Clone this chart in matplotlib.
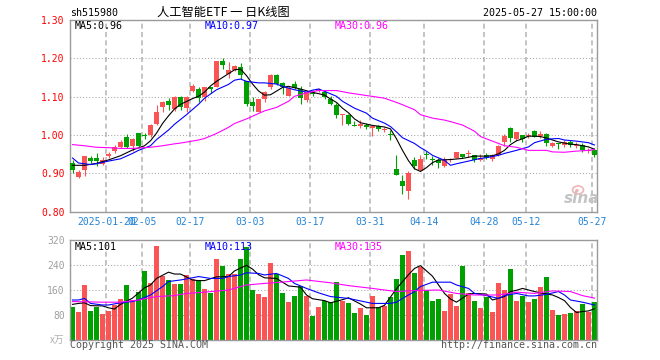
import matplotlib
matplotlib.use("Agg")
import matplotlib.pyplot as plt
from matplotlib.patches import Ellipse

plt.rcParams['lines.scale_dashes'] = False

# daily candles, 2025-01-10 .. 2025-05-27 (88 trading days)
opens = [.927, .891, .908, .939, .939, .925, .944, .958, .968, .994,
         .972, 1.004, 1.000, 1.000, 1.028, 1.073, 1.088, 1.067, 1.100, 1.070,
         1.116, 1.121, 1.098, 1.126, 1.125, 1.192, 1.160, 1.169, 1.178, 1.140,
         1.085, 1.060, 1.095, 1.125, 1.156, 1.135, 1.103, 1.133, 1.121, 1.092,
         1.112, 1.114, 1.111, 1.094, 1.077, 1.052, 1.053, 1.026, 1.024, 1.026,
         1.019, 1.024, 1.012, 1.003, .912, .879, .853, .934, .908, .950,
         .937, .934, .919, .934, .940, .950, .950, .949, .934, .949,
         .937, .947, .981, 1.019, .989, 1.000, .997, 1.010, .997, 1.002,
         .972, .980, .974, .981, .972, .975, .959, .960]
highs = [.934, .908, .945, .945, .954, .943, .956, .974, .987, 1.003,
         .993, 1.006, 1.006, 1.029, 1.079, 1.090, 1.096, 1.102, 1.101, 1.101,
         1.134, 1.126, 1.126, 1.126, 1.193, 1.202, 1.191, 1.182, 1.187, 1.141,
         1.099, 1.095, 1.114, 1.160, 1.160, 1.138, 1.127, 1.142, 1.127, 1.116,
         1.118, 1.123, 1.116, 1.101, 1.083, 1.055, 1.054, 1.037, 1.039, 1.031,
         1.023, 1.026, 1.021, 1.013, .947, .897, .905, .943, .947, .958,
         .945, .940, .943, .940, .956, .950, .960, .949, .951, .954,
         .950, .975, 1.002, 1.022, 1.009, 1.000, 1.004, 1.013, 1.010, 1.004,
         .982, .980, .987, .987, .982, .978, .965, .965]
lows = [.902, .888, .893, .928, .919, .921, .939, .952, .965, .967,
        .958, .969, .989, .995, 1.025, 1.061, 1.066, 1.062, 1.066, 1.061,
        1.112, 1.086, 1.090, 1.110, 1.124, 1.171, 1.149, 1.167, 1.145, 1.076,
        1.063, 1.060, 1.085, 1.121, 1.130, 1.107, 1.101, 1.119, 1.082, 1.085,
        1.101, 1.111, 1.094, 1.077, 1.044, 1.026, 1.025, 1.024, 1.018, 1.016,
        .998, 1.011, 1.007, .987, .895, .846, .832, .912, .905, .937,
        .923, .914, .917, .930, .939, .939, .943, .930, .932, .937,
        .932, .946, .972, .981, .984, .982, .991, .996, .993, .972,
        .968, .963, .969, .969, .965, .956, .954, .943]
closes = [.908, .903, .945, .933, .933, .934, .951, .968, .981, .969,
          .990, .972, .998, 1.026, 1.061, 1.085, 1.077, 1.100, 1.073, 1.098,
          1.127, 1.096, 1.126, 1.121, 1.192, 1.182, 1.169, 1.180, 1.156, 1.082,
          1.076, 1.095, 1.112, 1.156, 1.132, 1.125, 1.123, 1.123, 1.096, 1.112,
          1.107, 1.120, 1.098, 1.082, 1.051, 1.054, 1.029, 1.024, 1.029, 1.020,
          1.023, 1.016, 1.016, 1.000, .897, .868, .901, .918, .937, .947,
          .934, .928, .936, .937, .956, .943, .954, .934, .940, .940,
          .947, .972, .998, .993, 1.007, .989, 1.000, .996, 1.002, .978,
          .980, .977, .982, .975, .975, .961, .962, .947]
# volume, x万
vols = [108, 91, 177, 94, 107, 84, 94, 113, 132, 177,
        129, 156, 222, 183, 302, 206, 193, 180, 180, 209,
        196, 193, 164, 152, 260, 238, 212, 212, 260, 299,
        161, 148, 140, 247, 212, 151, 123, 142, 174, 142,
        79, 108, 127, 122, 187, 126, 119, 87, 103, 81,
        142, 107, 110, 139, 196, 273, 286, 215, 235, 161,
        126, 132, 94, 148, 110, 238, 151, 126, 103, 139,
        91, 183, 161, 228, 126, 142, 123, 132, 171, 203,
        97, 81, 84, 87, 94, 116, 91, 123]

# moving averages (day index, value)
ma5_idx = [0, 2, 4, 6, 8, 10, 12, 13, 14, 15, 16, 17, 18, 20, 21, 22, 23, 24, 26, 27, 28, 29,
           30, 31, 32, 33, 35, 36, 38, 40, 41, 42, 43, 44, 45, 46, 47, 48, 50, 52, 53, 54, 55,
           56, 57, 58, 59, 60, 61, 63, 65, 67, 69, 70, 71, 72, 73, 74, 75, 76, 77, 78, 79, 80,
           81, 82, 83, 84, 85, 86, 87]
ma5_val = [.921, .921, .926, .935, .946, .961, .972, .985, 1.005, 1.030, 1.050, 1.068, 1.080,
           1.095, 1.101, 1.112, 1.128, 1.140, 1.160, 1.170, 1.172, 1.155, 1.133, 1.115, 1.104,
           1.105, 1.124, 1.127, 1.120, 1.111, 1.108, 1.104, 1.094, 1.085, 1.070, 1.058, 1.042,
           1.032, 1.025, 1.021, 1.016, .990, .960, .933, .912, .905, .915, .928, .935, .936,
           .939, .945, .945, .946, .951, .960, .975, .985, .990, .997, .997, .996, .992, .987,
           .982, .979, .976, .975, .972, .969, .963]
ma10_idx = [0, 1, 3, 4, 6, 8, 9, 10, 11, 13, 14, 16, 17, 19, 21, 22, 24, 26, 27, 28, 29, 31,
            32, 34, 35, 37, 39, 40, 41, 42, 44, 45, 47, 49, 50, 52, 53, 54, 55, 57, 58, 59, 60,
            62, 63, 64, 66, 68, 69, 71, 72, 74, 76, 77, 79, 81, 82, 84, 86, 87]
ma10_val = [.940, .927, .923, .925, .932, .938, .945, .952, .960, .972, .988, 1.013, 1.028,
            1.053, 1.080, 1.096, 1.118, 1.132, 1.143, 1.146, 1.140, 1.136, 1.136, 1.133, 1.127,
            1.118, 1.112, 1.117, 1.120, 1.114, 1.101, 1.088, 1.070, 1.057, 1.044, 1.031, 1.022,
            1.008, .993, .978, .967, .958, .947, .934, .921, .925, .932, .939, .941, .947,
            .952, .960, .969, .980, .989, .991, .987, .984, .980, .974]
ma30_idx = [0, 2, 4, 6, 8, 10, 13, 15, 17, 18, 21, 22, 24, 26, 27, 29, 31, 32, 34, 36, 37, 39,
            41, 44, 46, 49, 52, 54, 55, 57, 58, 60, 62, 63, 65, 67, 68, 70, 72, 74, 76, 79, 80,
            82, 84, 86, 87]
ma30_val = [.975, .972, .968, .967, .965, .965, .968, .972, .977, .979, .987, .991, 1.004, 1.020,
            1.030, 1.042, 1.056, 1.063, 1.072, 1.088, 1.101, 1.110, 1.116, 1.116, 1.110, 1.103,
            1.096, 1.085, 1.079, 1.066, 1.053, 1.044, 1.039, 1.035, 1.026, 1.010, .996, .984,
            .972, .968, .960, .960, .956, .955, .958, .960, .962]

vma5_idx = [0, 1, 2, 3, 5, 6, 7, 8, 10, 12, 13, 14, 16, 17, 18, 20, 21, 22, 24, 26, 27, 29, 30,
            31, 32, 34, 36, 38, 39, 40, 42, 43, 45, 46, 48, 49, 51, 52, 54, 56, 57, 58, 60, 62,
            63, 64, 66, 67, 69, 70, 72, 73, 74, 75, 77, 78, 80, 81, 82, 83, 84, 85, 86, 87]
vma5_val = [115, 118, 120, 111, 110, 104, 100, 115, 135, 168, 177, 198, 218, 212, 212, 193, 191,
            191, 203, 204, 222, 240, 228, 210, 200, 198, 174, 170, 145, 133, 127, 120, 130, 136,
            116, 104, 104, 112, 165, 210, 230, 239, 205, 150, 132, 122, 148, 150, 148, 129, 140,
            156, 160, 166, 156, 152, 145, 137, 127, 105, 89, 92, 94, 101]
vma10_idx = [0, 1, 2, 3, 5, 6, 8, 10, 11, 13, 15, 16, 18, 20, 21, 23, 25, 26, 28, 29, 31, 32,
             34, 36, 37, 39, 41, 43, 45, 46, 48, 50, 51, 53, 54, 55, 57, 58, 60, 61, 63, 64, 66,
             67, 69, 71, 72, 74, 76, 77, 79, 81, 82, 83, 85, 87]
vma10_val = [129, 129, 134, 118, 113, 113, 120, 124, 129, 145, 172, 188, 193, 200, 204, 198, 198,
             204, 209, 216, 214, 209, 214, 198, 182, 166, 152, 140, 136, 134, 126, 118, 118, 118,
             122, 134, 156, 172, 186, 186, 186, 177, 166, 150, 143, 134, 143, 150, 142, 142, 147,
             156, 145, 129, 122, 113]
vma30_idx = [0, 5, 8, 11, 14, 17, 19, 22, 26, 29, 32, 36, 39, 43, 46, 50, 54, 57, 61, 64, 67,
             71, 74, 77, 80, 83, 85, 87]
vma30_val = [124, 122, 122, 129, 140, 143, 150, 154, 161, 177, 182, 188, 193, 184, 175, 166, 156,
             159, 161, 150, 145, 145, 154, 150, 158, 156, 143, 135]

date_idx = [6, 12, 20, 30, 40, 50, 59, 69, 76, 87]
date_labels = ["2025-01-20", "02-05", "02-17", "03-03", "03-17",
               "03-31", "04-14", "04-28", "05-12", "05-27"]

RED = '#fa5454'
GREEN = '#00a000'
MONO = 'DejaVu Sans Mono'
W, H = 660, 360


def fx(x):
    return x / W


def fy(y):
    return 1 - y / H


fig = plt.figure(figsize=(6.6, 3.6), dpi=100)
ax1 = fig.add_axes([fx(70.3), fy(211.7), 527 / W, 191.7 / H])
ax2 = fig.add_axes([fx(70.3), fy(340.3), 527 / W, 100 / H])

n = len(closes)
xs = list(range(n))
cols = [RED if c >= o else GREEN for o, c in zip(opens, closes)]

for ax in (ax1, ax2):
    ax.set_xlim(-0.37, 87.47)
    for s in ax.spines.values():
        s.set_color('#9a9a9a')
        s.set_linewidth(1.0)
    for d in date_idx:
        ax.axvline(d - 0.35, color='#b4b4b4', lw=1.1, ls=(0, (3.6, 2.4)), zorder=0)
    ax.tick_params(length=0)

# price panel
ax1.set_ylim(0.80, 1.30)
for g in [0.9, 1.0, 1.1, 1.2]:
    ax1.axhline(g, color='#a8a8a8', lw=0.75, ls=(0, (0.75, 1.5)), zorder=0)

ax1.vlines(xs, lows, highs, colors=cols, lw=0.8, zorder=2)
body_lo = [min(o, c) for o, c in zip(opens, closes)]
body_h = [max(abs(c - o), 0.002) for o, c in zip(opens, closes)]
ax1.bar(xs, body_h, bottom=body_lo, width=0.76, color=cols, lw=0, zorder=3)

ax1.plot(ma5_idx, ma5_val, color='black', lw=0.8, zorder=4)
ax1.plot(ma10_idx, ma10_val, color='#0000ff', lw=0.8, zorder=4)
ax1.plot(ma30_idx, ma30_val, color='#ff00ff', lw=0.8, zorder=4)

ax1.set_yticks([0.8, 0.9, 1.0, 1.1, 1.2, 1.3])
ax1.set_yticklabels(['0.80', '0.90', '1.00', '1.10', '1.20', '1.30'],
                    color='#ff0000', family=MONO, fontsize=7)
ax1.tick_params(axis='y', pad=4)
ax1.set_xticks([d - 0.35 for d in date_idx])
ax1.set_xticklabels(date_labels, color='#2483d6', family=MONO, fontsize=7)
ax1.tick_params(axis='x', pad=4)

# volume panel
ax2.set_ylim(0, 320)
for g in [80, 160, 240]:
    ax2.axhline(g, color='#a8a8a8', lw=0.75, ls=(0, (0.75, 1.5)), zorder=0)
ax2.bar(xs, vols, width=0.82, color=cols, lw=0, zorder=2)
ax2.plot(vma5_idx, vma5_val, color='black', lw=0.8, zorder=4)
ax2.plot(vma10_idx, vma10_val, color='#0000ff', lw=0.8, zorder=4)
ax2.plot(vma30_idx, vma30_val, color='#ff00ff', lw=0.8, zorder=4)
ax2.set_yticks([80, 160, 240, 320])
ax2.set_yticklabels(['80', '160', '240', '320'], color='#a0a0a0', family=MONO, fontsize=7)
ax2.tick_params(axis='y', pad=4)
ax2.set_xticks([])

# header texts
fig.text(fx(70), fy(13), 'sh515980', family=MONO, fontsize=7.2, ha='left', va='center')
fig.text(fx(223.5), fy(12.5), '人工智能ETF 一 日K线图', family=['Noto Sans CJK SC', 'DejaVu Sans'],
         fontsize=8.8, ha='center', va='center')
fig.text(fx(597), fy(12.5), '2025-05-27 15:00:00', family=MONO, fontsize=7.2, ha='right', va='center')

fig.text(fx(75), fy(26), 'MA5:0.96', family=MONO, fontsize=7.2, color='black', va='center')
fig.text(fx(205), fy(26), 'MA10:0.97', family=MONO, fontsize=7.2, color='#0000ff', va='center')
fig.text(fx(334.5), fy(26), 'MA30:0.96', family=MONO, fontsize=7.2, color='#ff00ff', va='center')

fig.text(fx(75), fy(246.7), 'MA5:101', family=MONO, fontsize=7.2, color='black', va='center')
fig.text(fx(205), fy(246.7), 'MA10:113', family=MONO, fontsize=7.2, color='#0000ff', va='center')
fig.text(fx(334.5), fy(246.7), 'MA30:135', family=MONO, fontsize=7.2, color='#ff00ff', va='center')

fig.text(fx(64), fy(340), 'x万', family=['Noto Sans CJK SC', 'DejaVu Sans'], fontsize=7,
         color='#b0b0b0', ha='right', va='center', style='italic')
fig.text(fx(70), fy(345.5), 'Copyright 2025 SINA.COM', family=MONO, fontsize=7.2,
         color='#555555', ha='left', va='center')
fig.text(fx(597), fy(345.5), 'http://finance.sina.com.cn', family=MONO, fontsize=7.2,
         color='#555555', ha='right', va='center')

# sina watermark
fig.add_artist(Ellipse((fx(578), fy(190)), 11 / W, 8 / H, transform=fig.transFigure,
                       fill=False, ec='#f2b4b4', lw=1.2))
fig.add_artist(Ellipse((fx(577), fy(190.5)), 3.5 / W, 3.5 / H, transform=fig.transFigure,
                       fc='#f2b4b4', ec='none'))
fig.text(fx(582), fy(198), 'sina', fontsize=11, fontweight='bold', style='italic',
         color='#c4c4c4', ha='center', va='center')

fig.savefig('out.png', dpi=100)
